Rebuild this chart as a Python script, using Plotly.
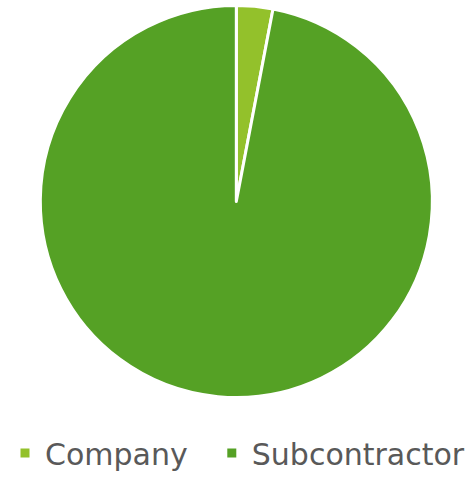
import plotly.graph_objects as go

labels = ["Company", "Subcontractor"]
values = [3, 97]
colors = ["#93C12B", "#55A125"]

# legend entries: pad first label with non-breaking spaces for wider item gap
legend_labels = [labels[0] + "\u00a0\u00a0", labels[1]]

fig = go.Figure(go.Pie(
    labels=legend_labels,
    values=values,
    marker=dict(colors=colors, line=dict(color="white", width=3)),
    sort=False,
    direction="clockwise",
    rotation=0,
    textinfo="none",
    hovertext=labels,
    hoverinfo="text+percent",
    domain=dict(x=[0.0847, 0.9082], y=[0.1701, 0.9885]),
))

fig.update_layout(
    width=476, height=479,
    margin=dict(l=0, r=0, t=0, b=0),
    paper_bgcolor="white",
    plot_bgcolor="white",
    showlegend=True,
    legend=dict(
        orientation="h",
        x=0.0105, xanchor="left",
        y=0.0, yanchor="bottom",
        font=dict(family="DejaVu Sans", size=30, color="#595959"),
        itemwidth=30,
    ),
)

fig.write_html("out.html", config={"displayModeBar": False},
               post_script="document.body.style.margin='0';")
